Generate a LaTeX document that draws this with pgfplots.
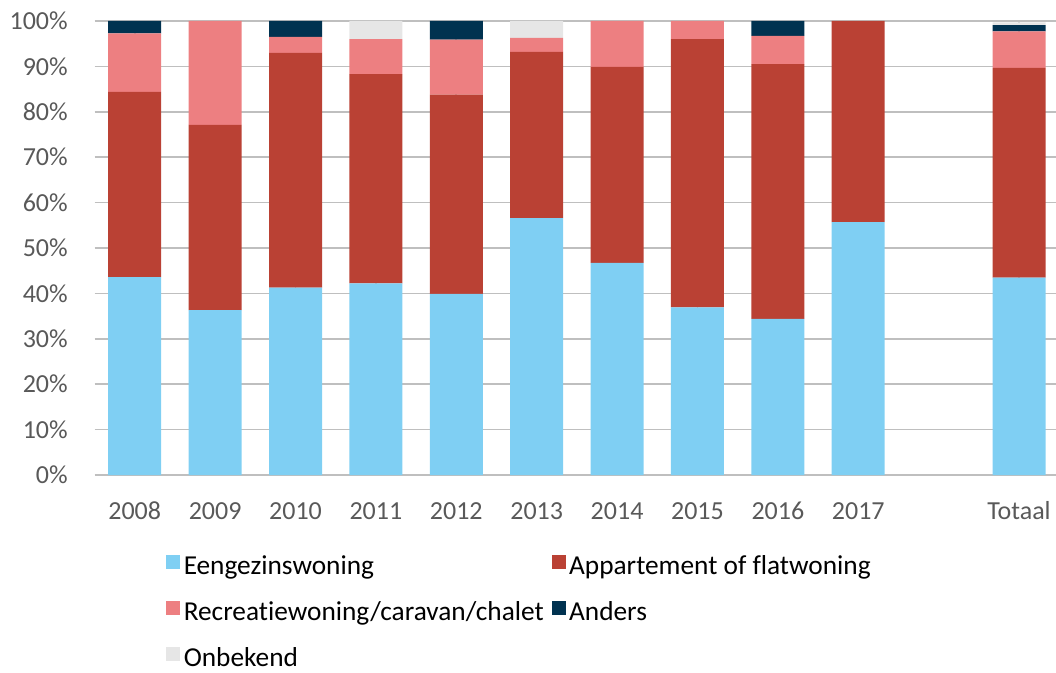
\documentclass[border=0pt]{standalone}
\usepackage{pgfplots}
\pgfplotsset{compat=1.18}
\usepackage{pgfplotstable}
\usepackage{fontspec}
\setmainfont{Carlito}[Ligatures={NoCommon}]
\definecolor{cE}{HTML}{7FCFF3}
\definecolor{cA}{HTML}{BA4134}
\definecolor{cR}{HTML}{ED7F81}
\definecolor{cN}{HTML}{003250}
\definecolor{cO}{HTML}{E6E6E6}
\definecolor{grid}{HTML}{D9D9D9}
\definecolor{txt}{HTML}{595959}
\pgfplotstableread{
x  E    A    R    N    O
0  43.6 40.8 12.9 2.7  0
1  36.3 40.8 22.9 0    0
2  41.3 51.7 3.5  3.5  0
3  42.2 46.1 7.7  0    4.0
4  39.9 43.9 12.1 4.1  0
5  56.6 36.6 3.1  0    3.7
6  46.7 43.2 10.1 0    0
7  36.9 59.1 4.0  0    0
8  34.4 56.1 6.2  3.3  0
9  55.7 44.3 0    0    0
11 43.5 46.2 8.0  1.4  0.6
}\data
\begin{document}
\fontsize{19.5}{23}\selectfont
\begin{tikzpicture}
\useasboundingbox (0,0) rectangle (792pt,504pt);
\begin{axis}[
  at={(70.9pt,147.75pt)}, anchor=south west,
  scale only axis, width=721.1pt, height=340.5pt,
  ybar stacked, bar width=39.75pt,
  xmin=-0.5, xmax=11.46, ymin=0, ymax=100,
  xtick={0,1,2,3,4,5,6,7,8,9,11},
  xticklabels={2008,2009,2010,2011,2012,2013,2014,2015,2016,2017,Totaal},
  ytick={0,10,...,100},
  yticklabel={\pgfmathprintnumber{\tick}\%},
  /pgf/number format/assume math mode=true,
  axis line style={draw=none},
  major tick length=0pt,
  ymajorgrids, grid style={grid, line width=1.3pt},
  tick label style={font=\fontsize{19.5}{23}\selectfont, text=txt},
  yticklabel style={anchor=east, inner sep=0pt, xshift=-19.9pt},
  xticklabel style={anchor=base, inner sep=0pt, yshift=-33.2pt},
  clip=false,
  legend columns=2,
  legend cell align=left,
  legend style={at={(0.0745,-0.1765)}, anchor=north west, draw=none, fill=none, inner sep=0pt,
    font=\fontsize{20.5}{24}\selectfont,
    nodes={inner sep=0pt, text height=14pt, text depth=2pt},
    row sep=17.8pt,
    /tikz/every odd column/.append style={column sep=2.5pt},
    /tikz/every even column/.append style={column sep=6pt}},
  legend image code/.code={\fill[#1] (0pt,-2pt) rectangle (10.5pt,8.5pt);},
  every axis plot/.append style={draw=none},
]
\addplot[fill=cE] table[x=x,y=E] {\data};
\addplot[fill=cA] table[x=x,y=A] {\data};
\addplot[fill=cR] table[x=x,y=R] {\data};
\addplot[fill=cN] table[x=x,y=N] {\data};
\addplot[fill=cO] table[x=x,y=O] {\data};
\legend{Eengezinswoning, Appartement of flatwoning, Recreatiewoning/caravan/chalet, Anders, Onbekend}
\end{axis}
\end{tikzpicture}
\end{document}
